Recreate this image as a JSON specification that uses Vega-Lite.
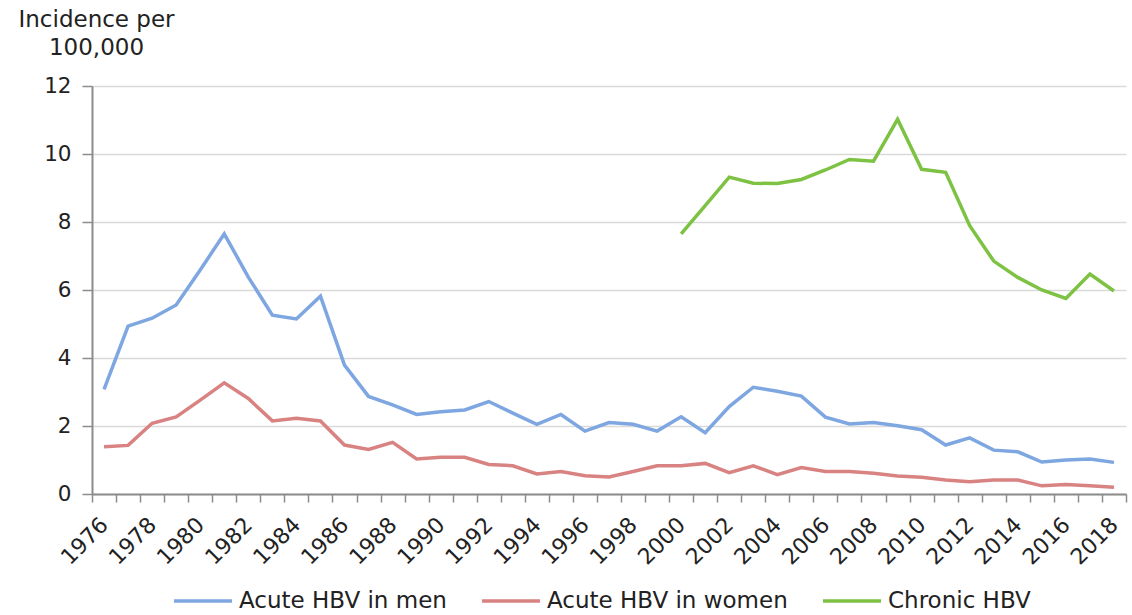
{
  "$schema": "https://vega.github.io/schema/vega-lite/v6.json",
  "width": 1034,
  "height": 408,
  "autosize": {"type": "none"},
  "padding": {"left": 92, "top": 86, "right": 6, "bottom": 121},
  "background": "white",
  "config": {
    "font": "DejaVu Sans",
    "view": {"stroke": null}
  },
  "data": {
    "values": [
      {"year": 1976, "series": "Acute HBV in men", "value": 3.08},
      {"year": 1977, "series": "Acute HBV in men", "value": 4.94},
      {"year": 1978, "series": "Acute HBV in men", "value": 5.17},
      {"year": 1979, "series": "Acute HBV in men", "value": 5.56},
      {"year": 1980, "series": "Acute HBV in men", "value": 6.59},
      {"year": 1981, "series": "Acute HBV in men", "value": 7.65},
      {"year": 1982, "series": "Acute HBV in men", "value": 6.38},
      {"year": 1983, "series": "Acute HBV in men", "value": 5.26},
      {"year": 1984, "series": "Acute HBV in men", "value": 5.15},
      {"year": 1985, "series": "Acute HBV in men", "value": 5.82},
      {"year": 1986, "series": "Acute HBV in men", "value": 3.79},
      {"year": 1987, "series": "Acute HBV in men", "value": 2.87},
      {"year": 1988, "series": "Acute HBV in men", "value": 2.62},
      {"year": 1989, "series": "Acute HBV in men", "value": 2.34},
      {"year": 1990, "series": "Acute HBV in men", "value": 2.42},
      {"year": 1991, "series": "Acute HBV in men", "value": 2.47},
      {"year": 1992, "series": "Acute HBV in men", "value": 2.72},
      {"year": 1993, "series": "Acute HBV in men", "value": 2.38},
      {"year": 1994, "series": "Acute HBV in men", "value": 2.05},
      {"year": 1995, "series": "Acute HBV in men", "value": 2.34},
      {"year": 1996, "series": "Acute HBV in men", "value": 1.85},
      {"year": 1997, "series": "Acute HBV in men", "value": 2.1},
      {"year": 1998, "series": "Acute HBV in men", "value": 2.05},
      {"year": 1999, "series": "Acute HBV in men", "value": 1.85},
      {"year": 2000, "series": "Acute HBV in men", "value": 2.27},
      {"year": 2001, "series": "Acute HBV in men", "value": 1.8},
      {"year": 2002, "series": "Acute HBV in men", "value": 2.57},
      {"year": 2003, "series": "Acute HBV in men", "value": 3.14},
      {"year": 2004, "series": "Acute HBV in men", "value": 3.02},
      {"year": 2005, "series": "Acute HBV in men", "value": 2.88},
      {"year": 2006, "series": "Acute HBV in men", "value": 2.26},
      {"year": 2007, "series": "Acute HBV in men", "value": 2.06},
      {"year": 2008, "series": "Acute HBV in men", "value": 2.1},
      {"year": 2009, "series": "Acute HBV in men", "value": 2.01},
      {"year": 2010, "series": "Acute HBV in men", "value": 1.89},
      {"year": 2011, "series": "Acute HBV in men", "value": 1.44},
      {"year": 2012, "series": "Acute HBV in men", "value": 1.65},
      {"year": 2013, "series": "Acute HBV in men", "value": 1.29},
      {"year": 2014, "series": "Acute HBV in men", "value": 1.24},
      {"year": 2015, "series": "Acute HBV in men", "value": 0.94},
      {"year": 2016, "series": "Acute HBV in men", "value": 1.0},
      {"year": 2017, "series": "Acute HBV in men", "value": 1.03},
      {"year": 2018, "series": "Acute HBV in men", "value": 0.93},
      {"year": 1976, "series": "Acute HBV in women", "value": 1.39},
      {"year": 1977, "series": "Acute HBV in women", "value": 1.43},
      {"year": 1978, "series": "Acute HBV in women", "value": 2.08},
      {"year": 1979, "series": "Acute HBV in women", "value": 2.27},
      {"year": 1980, "series": "Acute HBV in women", "value": 2.76},
      {"year": 1981, "series": "Acute HBV in women", "value": 3.27},
      {"year": 1982, "series": "Acute HBV in women", "value": 2.81},
      {"year": 1983, "series": "Acute HBV in women", "value": 2.15},
      {"year": 1984, "series": "Acute HBV in women", "value": 2.23},
      {"year": 1985, "series": "Acute HBV in women", "value": 2.15},
      {"year": 1986, "series": "Acute HBV in women", "value": 1.44},
      {"year": 1987, "series": "Acute HBV in women", "value": 1.31},
      {"year": 1988, "series": "Acute HBV in women", "value": 1.52},
      {"year": 1989, "series": "Acute HBV in women", "value": 1.03},
      {"year": 1990, "series": "Acute HBV in women", "value": 1.08},
      {"year": 1991, "series": "Acute HBV in women", "value": 1.08},
      {"year": 1992, "series": "Acute HBV in women", "value": 0.87},
      {"year": 1993, "series": "Acute HBV in women", "value": 0.83},
      {"year": 1994, "series": "Acute HBV in women", "value": 0.59},
      {"year": 1995, "series": "Acute HBV in women", "value": 0.66},
      {"year": 1996, "series": "Acute HBV in women", "value": 0.54},
      {"year": 1997, "series": "Acute HBV in women", "value": 0.5},
      {"year": 1998, "series": "Acute HBV in women", "value": 0.66},
      {"year": 1999, "series": "Acute HBV in women", "value": 0.83},
      {"year": 2000, "series": "Acute HBV in women", "value": 0.83},
      {"year": 2001, "series": "Acute HBV in women", "value": 0.9},
      {"year": 2002, "series": "Acute HBV in women", "value": 0.63},
      {"year": 2003, "series": "Acute HBV in women", "value": 0.83},
      {"year": 2004, "series": "Acute HBV in women", "value": 0.57},
      {"year": 2005, "series": "Acute HBV in women", "value": 0.78},
      {"year": 2006, "series": "Acute HBV in women", "value": 0.66},
      {"year": 2007, "series": "Acute HBV in women", "value": 0.66},
      {"year": 2008, "series": "Acute HBV in women", "value": 0.61},
      {"year": 2009, "series": "Acute HBV in women", "value": 0.53},
      {"year": 2010, "series": "Acute HBV in women", "value": 0.49},
      {"year": 2011, "series": "Acute HBV in women", "value": 0.41},
      {"year": 2012, "series": "Acute HBV in women", "value": 0.36},
      {"year": 2013, "series": "Acute HBV in women", "value": 0.41},
      {"year": 2014, "series": "Acute HBV in women", "value": 0.41},
      {"year": 2015, "series": "Acute HBV in women", "value": 0.24},
      {"year": 2016, "series": "Acute HBV in women", "value": 0.28},
      {"year": 2017, "series": "Acute HBV in women", "value": 0.24},
      {"year": 2018, "series": "Acute HBV in women", "value": 0.2},
      {"year": 2000, "series": "Chronic HBV", "value": 7.65},
      {"year": 2001, "series": "Chronic HBV", "value": 8.48},
      {"year": 2002, "series": "Chronic HBV", "value": 9.32},
      {"year": 2003, "series": "Chronic HBV", "value": 9.14},
      {"year": 2004, "series": "Chronic HBV", "value": 9.13},
      {"year": 2005, "series": "Chronic HBV", "value": 9.25},
      {"year": 2006, "series": "Chronic HBV", "value": 9.53},
      {"year": 2007, "series": "Chronic HBV", "value": 9.84},
      {"year": 2008, "series": "Chronic HBV", "value": 9.79},
      {"year": 2009, "series": "Chronic HBV", "value": 11.02},
      {"year": 2010, "series": "Chronic HBV", "value": 9.55},
      {"year": 2011, "series": "Chronic HBV", "value": 9.46},
      {"year": 2012, "series": "Chronic HBV", "value": 7.89},
      {"year": 2013, "series": "Chronic HBV", "value": 6.85},
      {"year": 2014, "series": "Chronic HBV", "value": 6.37},
      {"year": 2015, "series": "Chronic HBV", "value": 6.0},
      {"year": 2016, "series": "Chronic HBV", "value": 5.75},
      {"year": 2017, "series": "Chronic HBV", "value": 6.47},
      {"year": 2018, "series": "Chronic HBV", "value": 5.97}
    ]
  },
  "mark": {"type": "line", "strokeWidth": 3.5, "strokeJoin": "miter", "strokeCap": "butt"},
  "encoding": {
    "x": {
      "field": "year",
      "type": "ordinal",
      "bandPosition": 0.5,
      "scale": {"type": "band", "paddingInner": 0, "paddingOuter": 0},
      "axis": {
        "title": null,
        "tickBand": "extent",
        "labelExpr": "datum.value % 2 == 0 ? datum.label : ''",
        "labelAngle": -45,
        "labelAlign": "right",
        "labelBaseline": "middle",
        "labelFontSize": 22,
        "labelColor": "#222222",
        "labelPadding": 19,
        "labelOverlap": false,
        "tickSize": 8,
        "tickColor": "#8c8c8c",
        "tickWidth": 1.5,
        "domainColor": "#8c8c8c",
        "domainWidth": 2,
        "grid": false
      }
    },
    "y": {
      "field": "value",
      "type": "quantitative",
      "scale": {"domain": [0, 12], "nice": false},
      "axis": {
        "values": [0, 2, 4, 6, 8, 10, 12],
        "title": ["Incidence per", "100,000"],
        "titleAngle": 0,
        "titleAlign": "center",
        "titleBaseline": "top",
        "titleX": 4,
        "titleY": -78,
        "titleFontSize": 23,
        "titleFontWeight": "normal",
        "titleColor": "#222222",
        "titleLineHeight": 28,
        "labelFontSize": 21.5,
        "labelColor": "#222222",
        "labelPadding": 11,
        "tickSize": 10,
        "tickColor": "#8c8c8c",
        "tickWidth": 1.5,
        "domainColor": "#8c8c8c",
        "domainWidth": 2,
        "grid": true,
        "gridColor": "#d9d9d9",
        "gridWidth": 1.5
      }
    },
    "color": {
      "field": "series",
      "type": "nominal",
      "scale": {
        "domain": ["Acute HBV in men", "Acute HBV in women", "Chronic HBV"],
        "range": ["#7ea6e0", "#d98282", "#7dc242"]
      },
      "legend": {
        "title": null,
        "orient": "none",
        "direction": "horizontal",
        "legendX": 80,
        "legendY": 484,
        "padding": 0,
        "symbolType": "stroke",
        "symbolSize": 3364,
        "symbolStrokeWidth": 3.5,
        "labelFontSize": 23,
        "labelColor": "#222222",
        "labelOffset": 5,
        "columnPadding": 28,
        "labelLimit": 400
      }
    }
  }
}
